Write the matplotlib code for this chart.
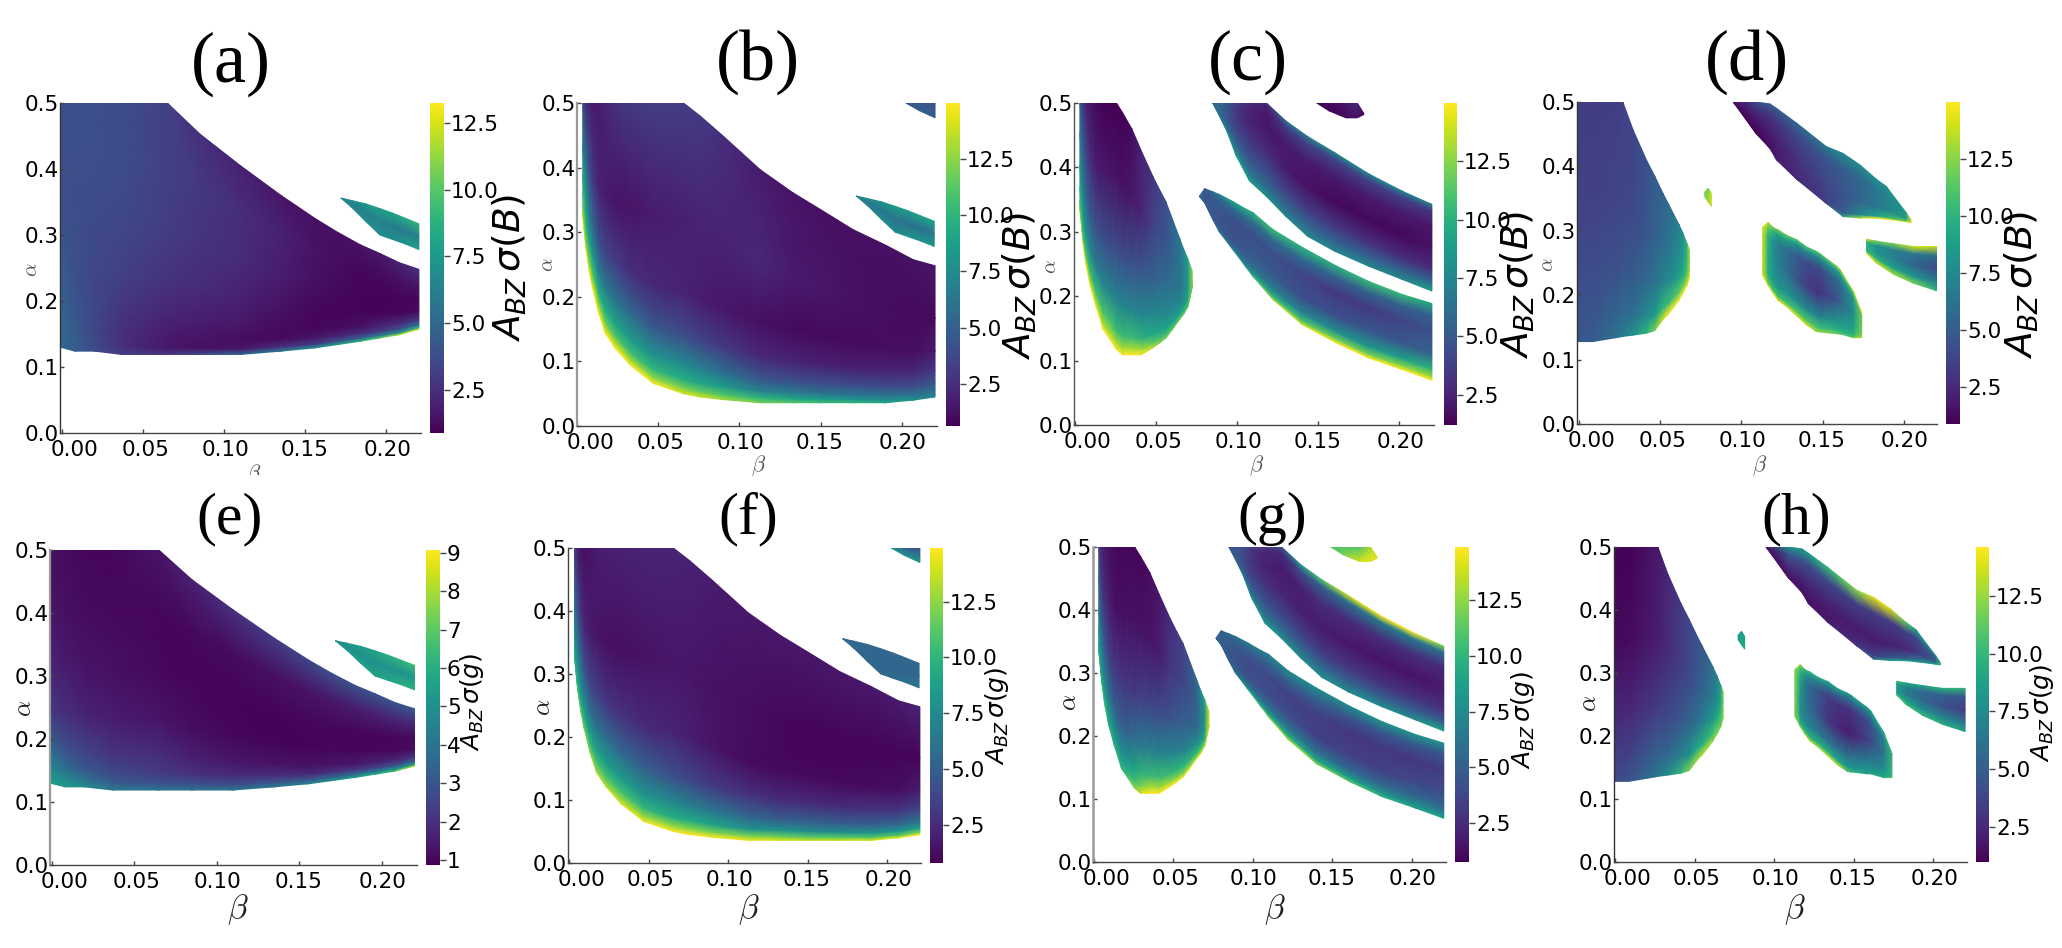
import numpy as np
import matplotlib
matplotlib.use("Agg")
import matplotlib.pyplot as plt
from matplotlib.colors import Normalize
from matplotlib.cm import ScalarMappable
from matplotlib.patches import Rectangle
from matplotlib.transforms import ScaledTranslation

W, H = 2062, 948

# --- band outlines: beta columns, lower and upper alpha ---
main_beta = [-.001, .008, .02, .037, .065, .085, .11, .135, .156, .17, .184, .196, .208, .22]
main_lo = [.13, .124, .124, .119, .119, .119, .119, .124, .129, .134, .139, .144, .149, .157]
main_hi = [.5, .5, .5, .5, .5, .453, .405, .36, .325, .304, .285, .272, .258, .248]
main_frac = [0, .03, .08, .15, .3, .5, .75, 1]

a_main = [[5.0, 5.0, 5.0, 4.8, 4.5, 4.0, 3.9, 3.9],
          [4.5, 4.5, 4.4, 4.2, 3.9, 3.8, 3.8, 3.9],
          [3.8, 3.6, 3.5, 3.5, 3.5, 3.6, 3.8, 3.9],
          [3.0, 2.6, 2.5, 2.7, 3.2, 3.5, 3.7, 3.7],
          [2.8, 1.7, 1.8, 2.1, 2.7, 3.1, 3.3, 3.3],
          [3.5, 1.4, 1.6, 1.9, 2.4, 2.7, 2.9, 2.6],
          [5.0, 1.6, 1.3, 1.6, 2.0, 2.4, 2.5, 2.0],
          [6.0, 2.5, 1.2, 1.2, 1.5, 1.9, 2.0, 1.6],
          [7.0, 3.0, 1.6, 1.1, 1.1, 1.4, 1.5, 1.4],
          [8.0, 4.0, 2.0, 1.2, 1.0, 1.2, 1.3, 1.4],
          [9.0, 5.0, 2.5, 1.5, 1.0, 1.0, 1.1, 1.5],
          [10., 6.0, 3.0, 2.0, 1.0, 1.0, 1.2, 1.7],
          [11.5, 7.0, 4.0, 2.5, 1.1, 1.0, 1.4, 2.0],
          [13., 9.0, 5.5, 3.2, 1.3, 1.1, 1.7, 2.5]]
e_main = [[5.5, 5.2, 4.5, 3.6, 2.2, 1.7, 1.3, 1.2],
          [5.3, 4.8, 3.8, 3.0, 2.0, 1.5, 1.2, 1.1],
          [4.8, 4.0, 3.0, 2.5, 1.7, 1.3, 1.1, 1.0],
          [4.2, 3.2, 2.6, 2.1, 1.5, 1.2, 1.05, 1.0],
          [4.0, 2.9, 2.2, 1.9, 1.3, 1.05, 1.0, 1.3],
          [4.0, 2.8, 2.0, 1.6, 1.15, 1.0, 1.05, 1.6],
          [4.0, 2.8, 1.9, 1.4, 1.0, .95, 1.1, 2.0],
          [4.2, 3.0, 1.9, 1.3, .95, .95, 1.2, 2.3],
          [4.5, 3.2, 1.8, 1.25, .95, 1.0, 1.3, 2.6],
          [5.0, 3.5, 2.0, 1.3, 1.0, 1.0, 1.4, 2.8],
          [5.5, 4.0, 2.3, 1.4, .95, 1.0, 1.5, 2.9],
          [6.0, 4.5, 2.5, 1.6, 1.0, 1.0, 1.6, 3.0],
          [6.5, 5.0, 3.0, 1.8, 1.0, 1.05, 1.7, 3.0],
          [8.5, 5.5, 3.5, 2.2, 1.1, 1.1, 1.8, 3.2]]

sliver_beta = [.172, .179, .1875, .196, .204, .212, .22]
sliver_lo = [.356, .341, .32, .30, .293, .286, .278]
sliver_hi = [.356, .352, .347, .34, .333, .325, .317]
sliver_frac = [0, .5, 1]
a_sliver = [[6.5, 6.5, 6.5], [6.5, 6.3, 7], [7, 6.2, 7.5], [7, 6.2, 8], [7, 6, 8], [7.5, 6, 8.5], [8, 6.2, 9]]
e_sliver = [[5, 5, 5], [5.2, 5, 5.3], [5.5, 5, 5.5], [5.6, 5, 5.7], [5.8, 5, 6], [6, 5, 6.2], [6.2, 5.2, 6.5]]
b_sliver = [[7, 7, 7], [7, 6.5, 7.5], [7.5, 6.2, 8], [7.5, 6.2, 8.5], [8, 6, 8.5], [8, 6, 9], [8.5, 6.2, 9]]
f_sliver = [[5.5, 5.5, 5.5], [5.5, 5.5, 5.5], [5.5, 5.5, 5.5], [5.5, 5.3, 5.5], [5.7, 5.3, 5.5], [6, 5.3, 5.5], [6.5, 5.5, 5.8]]

wide_beta = [.0035, .0055, .0076, .0096, .0133, .0174, .0236, .0328, .047, .0656,
             .0758, .0895, .1127, .133, .15, .17, .19, .207, .2205]
wide_lo = [.327, .275, .239, .2135, .175, .1435, .12, .094, .066, .05,
           .045, .041, .036, .036, .036, .036, .036, .04, .045]
wide_hi = [.5, .5, .5, .5, .5, .5, .5, .5, .5, .5,
           .48, .45, .397, .361, .335, .304, .28, .2575, .248]
wide_frac = [0, .02, .05, .1, .2, .35, .6, 1]
b_main = [[14, 14, 13, 12, 11, 9.5, 7, 4.5],
          [15, 14, 12, 11, 9.5, 8, 5.5, 2.5],
          [15, 14, 12.5, 11, 8.5, 6.5, 4, 2],
          [15, 14, 12.5, 10.5, 8, 5.5, 3, 1.7],
          [15, 14, 12, 9.5, 6.5, 4, 2, 1.6],
          [15, 13.5, 11.5, 9.5, 6.5, 3.5, 1.7, 2.0],
          [15, 13.5, 11, 9, 6, 3.2, 1.4, 2.6],
          [15, 13, 10.5, 8.5, 5.5, 2.6, 1.4, 3.0],
          [15, 12.5, 10, 8, 4.5, 2.2, 1.7, 3.2],
          [14, 12, 9.5, 7.5, 4, 2, 1.9, 3.2],
          [14, 11.5, 9, 7, 3.5, 1.8, 2, 3],
          [13, 11, 8.5, 6, 3, 1.5, 2, 2.5],
          [12, 10, 7, 4.5, 2.2, 1.2, 2.2, 1.7],
          [11, 9, 6.5, 4.2, 2, 1, 1.6, 1.4],
          [10.5, 8.5, 6, 4, 1.9, 1, 1.5, 1.3],
          [10, 8, 6, 4, 1.9, 1, 1.3, 1.2],
          [9, 7.5, 6, 4, 2, 1.1, 1.1, 1.2],
          [8, 7, 5.5, 4, 2.2, 1.1, 1, 1.3],
          [7, 6.5, 6, 4.5, 3, 1.6, 1, 1.5]]
f_main = [[10, 10, 9.5, 9, 8, 7, 5.5, 3.5],
          [11, 10.5, 10, 9, 7.5, 6, 4, 2],
          [12, 11, 10, 8.5, 7, 5, 2.8, 1.5],
          [12, 11, 10, 8.5, 6.5, 4, 2.2, 1.4],
          [12.5, 11.5, 10, 8.5, 6, 3.5, 1.8, 1.5],
          [13, 12, 10.5, 9, 6, 3.5, 1.6, 1.8],
          [13.5, 12, 10.5, 8.5, 6, 3, 1.4, 2],
          [14, 12.5, 10.5, 8.5, 5.5, 2.8, 1.3, 2.1],
          [14.5, 12.5, 10, 8, 5, 2.5, 1.5, 2.2],
          [15, 12.5, 9.5, 7.5, 4, 2.2, 1.6, 2.2],
          [15, 12.5, 9.5, 7, 3.8, 2, 1.6, 2.1],
          [15, 12, 9, 6.5, 3.2, 1.6, 1.5, 1.9],
          [14.5, 12, 8, 5.5, 2.8, 1.2, 1.3, 1.7],
          [14, 11.5, 8, 5, 2.5, 1.1, 1.1, 1.7],
          [13.5, 11, 7.5, 5, 2.5, 1.1, 1, 1.7],
          [13.5, 11, 7.5, 5, 2.5, 1.1, 1, 1.7],
          [14, 11, 8, 5.2, 2.8, 1.2, .95, 1.7],
          [14.5, 11, 8, 5.5, 3, 1.3, .95, 1.8],
          [15, 12, 9, 6.5, 3.6, 1.8, 1, 2.2]]

corner_beta = [.2025, .211, .2205]
corner_lo = [.5, .488, .477]
corner_hi = [.5, .5, .5]
corner_frac = [0, 1]
b_corner = [[4.5, 4.5], [5, 4.5], [5, 4.2]]
f_corner = [[8, 8], [8, 5], [8.5, 4]]

drop_beta = [.003, .005, .0068, .0092, .0129, .0174, .0215, .0256, .0293, .035, .041,
             .048, .052, .056, .06, .0645, .067, .0697, .0723]
drop_lo = [.336, .283, .249, .218, .184, .148, .133, .117, .109, .109, .109,
           .12, .127, .135, .148, .164, .172, .184, .2155]
drop_hi = [.5, .5, .5, .5, .5, .5, .5, .5, .485, .46, .425,
           .386, .366, .347, .32, .29, .273, .257, .239]
drop_frac = [0, .03, .08, .2, .4, .7, 1]
c_drop = [[13, 12, 11, 10, 8.5, 7, 5.5],
          [14, 12, 10.5, 8.5, 7, 5, 3.5],
          [15, 13, 10.5, 8, 6, 4, 2.6],
          [15, 13, 10.5, 7.5, 5, 3, 2],
          [15, 13, 10.5, 7, 4.5, 2.3, 1.6],
          [15, 13, 11, 7.5, 4.5, 2.1, 1.3],
          [15, 13, 11, 7.5, 4.3, 2, 1.2],
          [15, 13, 10.5, 7.5, 4.5, 1.9, 1.2],
          [15, 13, 10.5, 7.5, 4.5, 1.8, 1.2],
          [15, 13, 10.5, 7.5, 4.7, 2.1, 1.6],
          [15, 13, 10, 7.5, 5, 2.6, 2.5],
          [13.5, 11.5, 9.5, 7.5, 5.5, 4, 3.3],
          [12.5, 11, 9.2, 7.5, 5.8, 4.4, 3.9],
          [12, 10.5, 9, 7.5, 6, 4.8, 4.5],
          [12, 10.5, 9, 7.5, 6.3, 5.6, 5.5],
          [12, 10.5, 9, 7.5, 6.5, 6.5, 6.5],
          [12, 10.7, 9.5, 8, 7.5, 7.5, 7.7],
          [12, 11, 10, 9, 8.5, 8.5, 9],
          [12.5, 12.5, 12.5, 12.5, 12.5, 12.5, 12.5]]
g_drop = [[10, 9.5, 9, 8, 6.5, 5, 3.5],
          [11, 9.5, 8.5, 7, 5, 3, 2.2],
          [11, 10, 8.5, 6.5, 4.5, 2.5, 1.7],
          [10, 9, 8, 6, 3.5, 2, 1.4],
          [10, 9, 7.5, 5, 3, 1.4, 1.1],
          [10, 9, 7.5, 5, 3, 1.3, 1],
          [11, 9.5, 8, 5, 3, 1.3, 1],
          [12.5, 10.5, 9, 6, 3, 1.4, 1],
          [14, 12, 10, 6.5, 3.5, 1.4, 1],
          [15, 13, 10.2, 6.8, 3.7, 1.5, 1.2],
          [15, 13, 10.5, 7, 4, 1.8, 1.6],
          [15, 12.5, 10, 7, 4.5, 3, 2.6],
          [15, 12.2, 10, 7, 4.7, 3.3, 3],
          [14.5, 12, 10, 7, 5, 3.7, 3.5],
          [14.5, 12, 10, 7.2, 5.2, 4.3, 4.5],
          [14.5, 12, 10, 7.5, 5.5, 5, 5.5],
          [14, 12.5, 10.5, 8.2, 6.7, 6.5, 7],
          [14, 13, 11, 9, 8, 8, 9],
          [14, 14, 14, 14, 14, 14, 14]]

upper_beta = [.085, .0932, .0994, .1076, .118, .13, .1434, .16, .181, .2018, .22]
upper_lo = [.5, .459, .418, .379, .355, .324, .293, .27, .2466, .226, .208]
upper_hi = [.5, .5, .5, .5, .5, .472, .448, .423, .39, .363, .3425]
upper_frac = [0, .1, .25, .5, .75, .93, 1]
c_upper = [[6.5, 6.5, 6.5, 6.5, 6.5, 6.5, 6.5],
           [8, 6.5, 5.5, 5, 5, 5, 5.5],
           [9, 7, 5.5, 4, 3.5, 3.5, 4],
           [8.5, 6.5, 5, 3.5, 2.5, 2.5, 3],
           [8, 6, 4.5, 2.8, 2, 2.2, 2.8],
           [7.5, 5.8, 4, 2.2, 2.2, 3.6, 6],
           [7.5, 5.8, 3.8, 1.8, 2.2, 4, 7],
           [7.5, 5.5, 3.5, 1.5, 2.2, 4, 7.5],
           [7.5, 5.5, 3.2, 1.5, 2.2, 4, 7.5],
           [7.5, 5.5, 3, 1.5, 2.2, 4, 7.5],
           [9, 6, 3, 1.8, 2, 3.5, 7]]
g_upper = [[5, 5, 5, 5, 5, 5, 5],
           [6.5, 5.5, 4.5, 4, 4, 4, 4.5],
           [7.5, 6, 4.5, 3.2, 2.8, 2.8, 3.5],
           [8, 6, 4.5, 2.8, 2, 2.2, 3],
           [8, 5.5, 3.8, 2.2, 1.8, 2.2, 4],
           [7.5, 5.5, 3.6, 2, 2, 4, 8.5],
           [7.5, 5.5, 3.2, 1.7, 2.5, 5, 11],
           [7.5, 5.2, 3, 1.6, 2.5, 6, 14],
           [7.5, 5, 2.8, 1.5, 2.5, 6.5, 15],
           [7.5, 5, 2.8, 1.5, 2.6, 6.5, 15],
           [9, 5, 2.8, 1.7, 2.4, 6, 12]]

lower_beta = [.0768, .08, .085, .089, .0973, .1055, .1096, .122, .14, .161, .181, .2018, .22]
lower_lo = [.355, .345, .319, .30, .2725, .245, .231, .195, .156, .1275, .104, .086, .0694]
lower_hi = [.355, .367, .362, .358, .347, .335, .33, .3036, .276, .247, .223, .2026, .1886]
lower_frac = [0, .05, .15, .35, .65, .85, 1]
c_lower = [[6, 6, 6, 6, 6, 6, 6],
           [5, 5, 5, 5, 5, 5, 5],
           [5.5, 5.3, 5, 4.8, 5, 5.5, 6],
           [6, 5.5, 5, 4.8, 5, 5.5, 7],
           [8, 6, 5, 4.5, 4.5, 6, 9],
           [9, 7, 5.5, 4.7, 4.5, 6, 9.5],
           [10.5, 8, 6, 5, 4.5, 6, 10],
           [13, 10, 7, 5, 4.5, 6, 10.5],
           [14, 11, 7.5, 4.5, 4, 6, 10],
           [15, 12, 8, 4.5, 3.5, 5.5, 10],
           [15, 12, 8.5, 5, 3.5, 5.5, 10.5],
           [15, 12.5, 9, 5, 4, 5.5, 10.5],
           [15, 13, 10, 5.5, 4.5, 5.5, 9.5]]
g_lower = [[5, 5, 5, 5, 5, 5, 5],
           [5, 5, 5, 5, 5, 5, 5],
           [5.5, 5, 4.8, 4.5, 4.8, 5, 5.5],
           [6.5, 5.5, 4.8, 4.3, 4.5, 5, 6],
           [10, 7, 5, 4, 4, 5, 6.5],
           [11, 8, 5.5, 4, 4, 5, 7],
           [12, 8.5, 6, 4, 3.8, 5, 7],
           [13, 9.5, 6.5, 4, 3.5, 5, 7.5],
           [12, 9, 6, 3.5, 3.3, 5, 7.5],
           [11, 8.5, 5.5, 3.5, 3, 4.5, 7.5],
           [10, 8, 5.5, 3.5, 3, 4.5, 8],
           [9, 7.5, 5.5, 3.8, 3, 4.5, 8],
           [9, 7.5, 5.5, 4, 3.2, 4.5, 8]]

patch_beta = [.149, .1568, .167, .174, .178]
patch_lo = [.5, .4876, .477, .477, .482]
patch_hi = [.5, .5, .5, .5, .484]
patch_frac = [0, 1]
c_patch = [[1.3, 1.3], [1.4, 1.4], [1.6, 2], [1.8, 3], [1.5, 1.5]]
g_patch = [[11, 11], [12, 11], [14, 11], [14.5, 13], [14, 14]]

left_beta = [-.001, .0086, .025, .027, .0333, .0415, .0466, .0517, .0548, .058, .0615, .064, .0665, .068]
left_lo = [.128, .128, .135, .136, .138, .141, .145, .162, .17, .18, .192, .203, .215, .229]
left_hi = [.5, .5, .5, .5, .4566, .41, .385, .358, .343, .327, .31, .296, .28, .27]
left_frac = [0, .1, .3, .6, 1]
d_left = [[4.7, 4.5, 4.1, 3.6, 3.4],
          [4.9, 4.6, 4.1, 3.6, 3.4],
          [6.5, 5.5, 4.4, 3.8, 3.5],
          [6.8, 5.6, 4.5, 3.8, 3.6],
          [8, 6, 4.8, 4, 3.8],
          [10, 7.5, 5.6, 4.6, 4.4],
          [12, 8.5, 6.3, 5.2, 4.9],
          [14, 10, 7, 5.8, 5.3],
          [15, 10.5, 7.5, 6.3, 5.7],
          [15, 11, 8, 7, 6.2],
          [15, 11.5, 8.8, 7.8, 7],
          [15, 12, 9.5, 8.5, 7.8],
          [15, 13, 11, 10.5, 10],
          [14, 14, 13, 13, 13]]
h_left = [[4, 3.5, 2.4, 1.3, 1.1],
          [4.5, 3.7, 2.5, 1.4, 1.1],
          [6, 5, 3.2, 2, 1.8],
          [6.5, 5.2, 3.4, 2.1, 1.9],
          [7.5, 5.5, 3.8, 2.7, 2.5],
          [10, 7, 4.8, 3.5, 3.3],
          [12, 8, 5.5, 4, 3.8],
          [12.5, 9, 6, 4.8, 4.3],
          [13, 9.5, 6.7, 5.2, 4.7],
          [13, 10, 7.5, 5.8, 5.2],
          [12.5, 10.5, 8.2, 6.6, 6],
          [12, 11, 9, 7.5, 6.8],
          [12, 11, 10, 9, 8.5],
          [12, 12, 12, 12, 12]]

diag_beta = [.095, .109, .1175, .1216, .134, .152, .1626, .173, .183, .189, .2016, .2043]
diag_lo = [.5, .451, .428, .41, .38, .343, .322, .32, .3195, .318, .314, .313]
diag_hi = [.5, .5, .497, .49, .467, .431, .42, .402, .38, .369, .327, .317]
diag_frac = [0, .06, .3, .75, 1]
d_diag = [[1.2, 1.2, 1.2, 1.2, 1.2],
          [1.2, 1.1, 1.5, 2.8, 4],
          [1.6, 1.5, 1.8, 3, 5],
          [2, 1.9, 2, 3, 5],
          [2.5, 2.5, 2.8, 3.8, 5.5],
          [3.5, 3.5, 3.7, 4.5, 6.5],
          [9, 5, 4.5, 5, 7.5],
          [13, 7.5, 5.5, 5.5, 7.5],
          [15, 9, 6.5, 6.5, 8],
          [15, 10, 7, 7, 8],
          [15, 12, 9, 8.5, 8.5],
          [15, 15, 15, 15, 15]]
h_diag = [[1.5, 1.5, 1.5, 1.5, 1.5],
          [2, 1.8, 2.5, 4.5, 8],
          [1.8, 1.6, 2.2, 4.5, 8.5],
          [1.8, 1.6, 2.2, 4, 8.5],
          [2.2, 1.9, 2.1, 4, 10],
          [3, 2.6, 2, 3.5, 12],
          [6, 3.5, 2, 3.5, 14],
          [8.5, 4.5, 2.2, 3.5, 14],
          [9, 5, 2.5, 3.5, 11],
          [9, 6, 3, 3.8, 9],
          [9.5, 8, 5, 5, 8],
          [10, 10, 10, 10, 10]]

speck_beta = [.0774, .0795, .0815]
speck_lo = [.353, .345, .338]
speck_hi = [.36, .366, .358]
speck_frac = [0, 1]
d_speck = [[12, 12], [13, 12], [14, 14]]
h_speck = [[8.5, 8.5], [9, 8.5], [9, 9]]

lens_beta = [.113, .1164, .1195, .1226, .1277, .134, .14, .146, .148, .1585, .1606, .169, .174]
lens_lo = [.2316, .215, .203, .192, .1825, .168, .154, .1437, .143, .14, .14, .134, .134]
lens_hi = [.3056, .313, .305, .3014, .293, .286, .275, .268, .265, .245, .24, .205, .172]
lens_frac = [0, .06, .2, .5, .8, .94, 1]
d_lens = [[14, 14, 14, 14, 14, 14, 14],
          [14, 11, 9.5, 9.5, 10, 12, 14],
          [14, 10.5, 8.5, 8, 8, 10, 12],
          [14, 10.5, 8, 7, 7, 9, 12],
          [14, 10.5, 8, 6, 6, 9, 11.5],
          [14, 11, 7.5, 4.5, 5, 8, 11],
          [14, 11, 7.5, 3.5, 4, 7.5, 11],
          [13, 11, 7.5, 3, 4, 7.5, 11],
          [12.5, 10.5, 7, 3, 4, 7.5, 11],
          [12, 10, 8, 4.5, 5.5, 8.5, 12],
          [11, 9.5, 8, 5, 6, 9, 13],
          [11.5, 10, 9, 8, 8, 10, 13.5],
          [14, 13, 12, 12, 12, 13, 14]]
h_lens = [[12, 12, 12, 12, 12, 12, 12],
          [12, 9.5, 8, 8, 9, 10.5, 13],
          [12, 9.5, 7, 6.5, 6.5, 8.5, 10],
          [13, 9.5, 7, 5.5, 5.5, 7.5, 10],
          [12.5, 9.5, 6.5, 4.5, 4.5, 7, 9.5],
          [13, 9.5, 6, 3, 3.5, 6.5, 9],
          [13, 9, 6, 2.5, 3, 6, 9],
          [11, 8.5, 6, 2.2, 3, 6, 8.5],
          [10, 8, 6, 2.2, 3, 6, 8.5],
          [9, 8, 6.5, 3.5, 4, 6.5, 9],
          [9, 8, 6.5, 4, 4.5, 7, 9],
          [9.5, 8.5, 7.5, 6.5, 6.5, 8, 9.5],
          [11, 10, 10, 10, 10, 10, 11]]

wedge_beta = [.177, .183, .1934, .2057, .22]
wedge_lo = [.265, .25, .2327, .2187, .207]
wedge_hi = [.287, .284, .28, .2756, .2756]
wedge_frac = [0, .2, .5, .8, 1]
d_wedge = [[14, 10, 10, 10, 14], [14, 10, 8, 8, 12], [13, 9, 7, 7, 12], [12, 8, 5.5, 6.5, 14], [10, 7, 4, 6, 14]]
h_wedge = [[11, 8.5, 8.5, 8.5, 11], [10, 8.5, 6.5, 7, 9], [10, 7.5, 5.5, 5.5, 9], [9.5, 7, 4.5, 5, 9.5], [9, 6, 3.5, 4.5, 10]]

# panel tags, colour limits, colourbar ticks and label names
tags = ['(a)', '(b)', '(c)', '(d)', '(e)', '(f)', '(g)', '(h)']
vmins = [.89, .63, 1.2, .88, .87, .8, .74, 1.0]
vmaxs = [13.24, 14.98, 15.0, 15.0, 9.07, 14.9, 14.9, 14.6]
cbar_ticks = [[2.5, 5.0, 7.5, 10.0, 12.5]] * 8
cbar_ticks[4] = [1, 2, 3, 4, 5, 6, 7, 8, 9]
cbar_names = ['B'] * 4 + ['g'] * 4
beta_ticks = [0, .05, .1, .15, .2]
beta_labels = ['0.00', '0.05', '0.10', '0.15', '0.20']
alpha_ticks = [0, .1, .2, .3, .4, .5]
alpha_labels = ['0.0', '0.1', '0.2', '0.3', '0.4', '0.5']


def band(ax, beta, lo, hi, frac, vals, norm):
    beta, lo, hi, frac = map(np.asarray, (beta, lo, hi, frac))
    x = np.repeat(beta[:, None], len(frac), axis=1)
    y = lo[:, None] + (hi - lo)[:, None] * frac[None, :]
    ax.pcolormesh(x, y, np.array(vals, dtype=float), shading='gouraud', cmap='viridis', norm=norm)


main = (main_beta, main_lo, main_hi, main_frac)
wide = (wide_beta, wide_lo, wide_hi, wide_frac)
sliver = (sliver_beta, sliver_lo, sliver_hi, sliver_frac)
corner = (corner_beta, corner_lo, corner_hi, corner_frac)
drop = (drop_beta, drop_lo, drop_hi, drop_frac)
upper = (upper_beta, upper_lo, upper_hi, upper_frac)
lower = (lower_beta, lower_lo, lower_hi, lower_frac)
patch = (patch_beta, patch_lo, patch_hi, patch_frac)
left = (left_beta, left_lo, left_hi, left_frac)
diag = (diag_beta, diag_lo, diag_hi, diag_frac)
speck = (speck_beta, speck_lo, speck_hi, speck_frac)
lens = (lens_beta, lens_lo, lens_hi, lens_frac)
wedge = (wedge_beta, wedge_lo, wedge_hi, wedge_frac)

panel_bands = [
    [(main, a_main), (sliver, a_sliver)],
    [(wide, b_main), (sliver, b_sliver), (corner, b_corner)],
    [(drop, c_drop), (upper, c_upper), (lower, c_lower), (patch, c_patch)],
    [(left, d_left), (diag, d_diag), (speck, d_speck), (lens, d_lens), (wedge, d_wedge)],
    [(main, e_main), (sliver, e_sliver)],
    [(wide, f_main), (sliver, f_sliver), (corner, f_corner)],
    [(drop, g_drop), (upper, g_upper), (lower, g_lower), (patch, g_patch)],
    [(left, h_left), (diag, h_diag), (speck, h_speck), (lens, h_lens), (wedge, h_wedge)],
]

# layout in pixels: axes left, right, top, bottom, then beta at the left and right edge
boxes = [(60, 421, 103, 433, -.0012, .2213), (577, 937, 103, 426, 0, .2217),
         (1074, 1434, 103, 425, -.0006, .2213), (1577, 1937, 102, 424, -.0012, .2203),
         (50, 417, 550, 865, -.001, .2215), (568, 921, 548, 863, -.0006, .2212),
         (1093, 1446, 547, 862, -.0006, .2214), (1614, 1967, 547, 862, -.0006, .2212)]
cax_x = [(430, 444), (946, 960), (1444, 1457), (1946, 1960),
         (426, 440), (930, 943), (1455, 1469), (1976, 1989)]
title_xy = [(231, 82), (758, 80), (1248, 80), (1747, 80),
            (230, 533), (748, 533), (1272, 533), (1796, 533)]
title_size = [52, 52, 52, 52, 43, 43, 43, 43]
alpha_xy = [(31, 270), (547, 265), (1050, 267), (1547, 265),
            (24, 708), (543, 707), (1069, 702), (1589, 703)]
beta_xy = [(254, 475), (759, 466), (1257, 466), (1760, 466),
           (238, 910), (749, 910), (1275, 910), (1795, 910)]
label_xy = [(510, 268), (1020, 286), (1518, 285), (2022, 285),
            (472, 702), (997, 716), (1523, 720), (2042, 713)]
label_size = [27, 27, 27, 27, 18, 18, 18, 18]
spine_col = ['#333333', '#999999', '#555555', '#333333', '#999999', '#444444', '#999999', '#333333']
spine_lw = [1, 1.6, 1, 1, 1.6, 1, 1.8, 1]
tick_shift = [13, 2, 1, -1, 1]

fig = plt.figure(figsize=(W / 100, H / 100), dpi=100)
fx = lambda px: px / W
fy = lambda py: 1 - py / H

for i in range(8):
    l, r, t, b, x0, x1 = boxes[i]
    ax = fig.add_axes([fx(l), fy(b), (r - l) / W, (b - t) / H])
    norm = Normalize(vmins[i], vmaxs[i])
    for shape, vals in panel_bands[i]:
        band(ax, *shape, vals, norm)
    ax.set_xlim(x0, x1)
    ax.set_ylim(0, .5)
    ax.set_xticks(beta_ticks, beta_labels)
    ax.set_yticks(alpha_ticks, alpha_labels)
    ax.tick_params(direction='in', length=3, width=1, labelsize=15.5, color='#444444')
    ax.tick_params(axis='x', pad=5)
    ax.tick_params(axis='y', pad=1)
    for lab, dx in zip(ax.get_xticklabels(), tick_shift):
        lab.set_transform(lab.get_transform() + ScaledTranslation(dx / 100, 0, fig.dpi_scale_trans))
    for side in ['top', 'right']:
        ax.spines[side].set_visible(False)
    for side in ['left', 'bottom']:
        ax.spines[side].set_color(spine_col[i] if side == 'left' else '#444444')
        ax.spines[side].set_linewidth(spine_lw[i] if side == 'left' else 1)

    c0, c1 = cax_x[i]
    cax = fig.add_axes([fx(c0), fy(b), (c1 - c0) / W, (b - t) / H])
    cbar = fig.colorbar(ScalarMappable(norm, 'viridis'), cax=cax)
    cbar.outline.set_visible(False)
    cbar.set_ticks(cbar_ticks[i], labels=[str(v) for v in cbar_ticks[i]])
    cbar.ax.tick_params(length=4, width=1, labelsize=15.5, pad=1, color='#444444')

    fig.text(fx(title_xy[i][0]), fy(title_xy[i][1]), tags[i], family='Liberation Serif',
             fontsize=title_size[i], ha='center', va='baseline')
    top_row = i < 4
    fig.text(fx(alpha_xy[i][0]), fy(alpha_xy[i][1]), r'$\alpha$', math_fontfamily='cm',
             fontsize=15 if top_row else 18, rotation=90, ha='center', va='center',
             color='#555555' if top_row else '#222222')
    bt = fig.text(fx(beta_xy[i][0]), fy(beta_xy[i][1]), r'$\beta$', math_fontfamily='cm',
                  fontsize=16 if top_row else 24, ha='center', va='center',
                  color='#555555' if top_row else '#222222')
    if i == 0:
        # the beta of the first panel is cut off in the source picture
        bt.set_clip_path(Rectangle((0, fy(475) * H), W, 20, transform=None))
        bt.set_clip_on(True)
    fig.text(fx(label_xy[i][0]), fy(label_xy[i][1]), r'$A_{BZ}\,\sigma(%s)$' % cbar_names[i],
             fontsize=label_size[i], rotation=90, ha='center', va='center')

fig.savefig('out.png', dpi=100)
